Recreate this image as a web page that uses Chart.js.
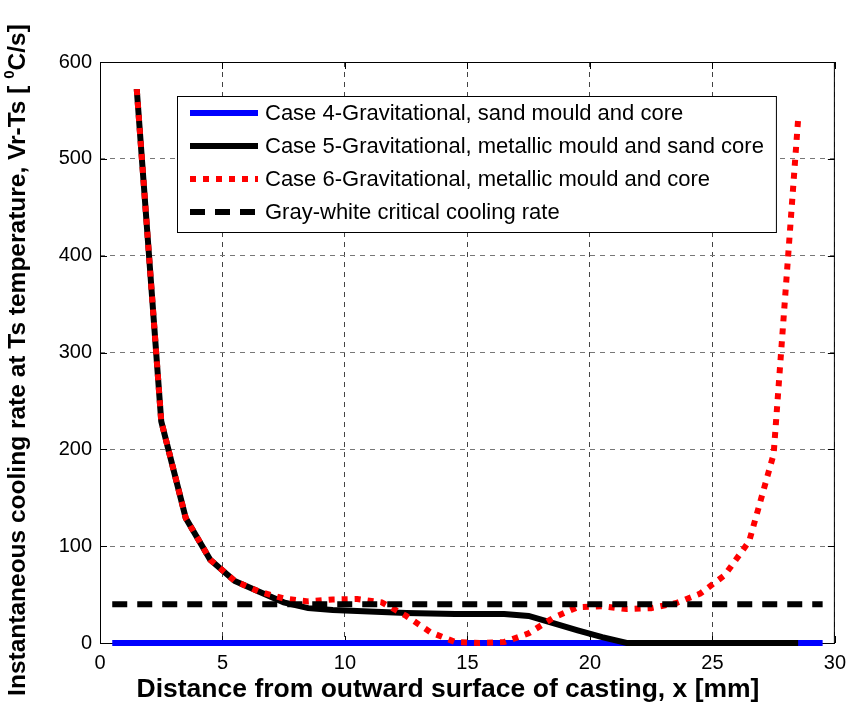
<!DOCTYPE html>
<html>
<head>
<meta charset="utf-8">
<script src="https://cdn.jsdelivr.net/npm/chart.js@4.4.1/dist/chart.umd.min.js"></script>
<style>
  body { margin: 0; background: #fff; }
  canvas { display: block; }
</style>
</head>
<body>
<canvas id="chart1" width="854" height="709"></canvas>
<script>
// distance from outward surface [mm]
var xPoints = [1.5, 2.5, 3.5, 4.5, 5.5, 6.5, 7.5, 8.5, 9.5, 10.5, 11.5, 12.5, 13.5, 14.5,
               15.5, 16.5, 17.5, 18.5, 19.5, 20.5, 21.5, 22.5, 23.5, 24.5, 25.5, 26.5, 27.5, 28.5];
var case5 = [572, 229, 129, 86, 64, 53, 42, 36, 34, 33, 32, 31, 30.5, 30,
             30, 30, 28, 20.5, 13, 6, 0, 0, 0, 0, 0, 0, 0, 0];
var case6 = [572, 229, 129, 86, 64, 53, 46, 43, 45, 45.5, 42, 28, 11, 1,
             0, 1, 10, 26, 37, 38, 35, 36, 41, 51, 70, 105, 195, 541];
var xRange = [0.5, 29.5];
var case4 = [0, 0];
var criticalRate = [40, 40];

var xTicks = [0, 5, 10, 15, 20, 25, 30];
var yTicks = [0, 100, 200, 300, 400, 500, 600];

var legendLabels = [
    "Case 4-Gravitational, sand mould and core",
    "Case 5-Gravitational, metallic mould and sand core",
    "Case 6-Gravitational, metallic mould and core",
    "Gray-white critical cooling rate"
];
var xTitle = "Distance from outward surface of casting, x [mm]";
var yTitleParts = ["Instantaneous cooling rate at Ts temperature, Vr-Ts [ ", "0", "C/s]"];

var FONT = "'Liberation Sans', Arial, sans-serif";

function toPoints(xs, ys) {
    return xs.map(function (x, i) { return { x: x, y: ys[i] }; });
}

// box, inner ticks, titles and legend like the matlab figure
var matlabAxes = {
    id: "matlabAxes",
    beforeDatasetsDraw: function (chart) {
        var ctx = chart.ctx;
        var a = chart.chartArea;
        var xs = chart.scales.x;
        var ys = chart.scales.y;
        ctx.save();
        ctx.strokeStyle = "#000";
        ctx.lineWidth = 1;
        ctx.setLineDash([]);
        ctx.strokeRect(a.left + 0.5, a.top + 0.5, a.right - a.left - 1, a.bottom - a.top);
        ctx.beginPath();
        xTicks.forEach(function (t) {
            var px = Math.round(xs.getPixelForValue(t)) + 0.5;
            ctx.moveTo(px, a.bottom); ctx.lineTo(px, a.bottom - 7);
            ctx.moveTo(px, a.top); ctx.lineTo(px, a.top + 7);
        });
        yTicks.forEach(function (t) {
            var py = Math.round(ys.getPixelForValue(t)) + 0.5;
            ctx.moveTo(a.left, py); ctx.lineTo(a.left + 7, py);
            ctx.moveTo(a.right, py); ctx.lineTo(a.right - 7, py);
        });
        ctx.stroke();

        // axis titles
        ctx.fillStyle = "#000";
        ctx.textBaseline = "middle";
        ctx.textAlign = "center";
        ctx.font = "bold 26.5px " + FONT;
        ctx.fillText(xTitle, a.left + 348, a.bottom + 47);

        ctx.translate(18, a.top + 298);
        ctx.rotate(-Math.PI / 2);
        var big = "bold 24.5px " + FONT, small = "bold 15px " + FONT;
        ctx.font = big;
        var w0 = ctx.measureText(yTitleParts[0]).width;
        var w2 = ctx.measureText(yTitleParts[2]).width;
        ctx.font = small;
        var w1 = ctx.measureText(yTitleParts[1]).width;
        var x0 = -(w0 + w1 + w2) / 2;
        ctx.textAlign = "left";
        ctx.font = big;
        ctx.fillText(yTitleParts[0], x0, 0);
        ctx.font = small;
        ctx.fillText(yTitleParts[1], x0 + w0, -8);
        ctx.font = big;
        ctx.fillText(yTitleParts[2], x0 + w0 + w1, 0);
        ctx.restore();
    },
    afterDraw: function (chart) {
        var ctx = chart.ctx;
        var a = chart.chartArea;
        var ds = chart.data.datasets;
        ctx.save();
        ctx.font = "22px " + FONT;
        var maxW = 0;
        ds.forEach(function (d) { maxW = Math.max(maxW, ctx.measureText(d.label).width); });
        var bx = a.left + 77, by = a.top + 34;
        var bw = 88 + maxW + 12, bh = 136;
        ctx.fillStyle = "#fff";
        ctx.fillRect(bx, by, bw, bh);
        ctx.strokeStyle = "#000";
        ctx.lineWidth = 1;
        ctx.setLineDash([]);
        ctx.strokeRect(bx + 0.5, by + 0.5, bw, bh);
        ds.forEach(function (d, i) {
            var ry = by + 17 + i * 33;
            ctx.beginPath();
            ctx.strokeStyle = d.borderColor;
            ctx.lineWidth = d.borderWidth;
            ctx.lineCap = "butt";
            ctx.setLineDash(d.borderDash || []);
            ctx.moveTo(bx + 13, ry);
            ctx.lineTo(bx + 81, ry);
            ctx.stroke();
            ctx.setLineDash([]);
            ctx.fillStyle = "#000";
            ctx.textBaseline = "middle";
            ctx.fillText(d.label, bx + 88, ry + 1);
        });
        ctx.restore();
    }
};

var ctx = document.getElementById("chart1").getContext("2d");
var chart1 = new Chart(ctx, {
    type: "scatter",
    data: {
        datasets: [
            {
                label: legendLabels[0],
                data: toPoints(xRange, case4),
                showLine: true,
                borderColor: "#0000ff",
                borderWidth: 6,
                pointRadius: 0,
                clip: false,
                order: 4
            },
            {
                label: legendLabels[1],
                data: toPoints(xPoints, case5),
                showLine: true,
                borderColor: "#000000",
                borderWidth: 6,
                pointRadius: 0,
                clip: false,
                order: 3
            },
            {
                label: legendLabels[2],
                data: toPoints(xPoints, case6),
                showLine: true,
                borderColor: "#ff0000",
                borderWidth: 6,
                borderDash: [6, 7],
                borderCapStyle: "butt",
                pointRadius: 0,
                clip: false,
                order: 2
            },
            {
                label: legendLabels[3],
                data: toPoints(xRange, criticalRate),
                showLine: true,
                borderColor: "#000000",
                borderWidth: 6,
                borderDash: [15, 10],
                borderCapStyle: "butt",
                pointRadius: 0,
                clip: false,
                order: 1
            }
        ]
    },
    options: {
        responsive: false,
        animation: false,
        devicePixelRatio: 1,
        layout: { padding: { top: 62, right: 15, left: 0, bottom: 0 } },
        plugins: {
            legend: { display: false },
            tooltip: { enabled: false }
        },
        scales: {
            x: {
                type: "linear",
                min: 0,
                max: 30,
                afterFit: function (s) { s.height = 66; },
                afterBuildTicks: function (s) { s.ticks = xTicks.map(function (v) { return { value: v }; }); },
                border: { display: false, dash: [5, 5] },
                grid: {
                    color: "#444",
                    lineWidth: 1,
                    drawTicks: false
                },
                ticks: {
                    color: "#000",
                    padding: 8,
                    maxRotation: 0,
                    font: { family: FONT, size: 20 }
                }
            },
            y: {
                type: "linear",
                min: 0,
                max: 600,
                afterFit: function (s) { s.width = 100; },
                afterBuildTicks: function (s) { s.ticks = yTicks.map(function (v) { return { value: v }; }); },
                border: { display: false, dash: [5, 5] },
                grid: {
                    color: "#777",
                    lineWidth: 1,
                    drawTicks: false
                },
                ticks: {
                    color: "#000",
                    padding: 8,
                    font: { family: FONT, size: 20 }
                }
            }
        }
    },
    plugins: [matlabAxes]
});
</script>
</body>
</html>
